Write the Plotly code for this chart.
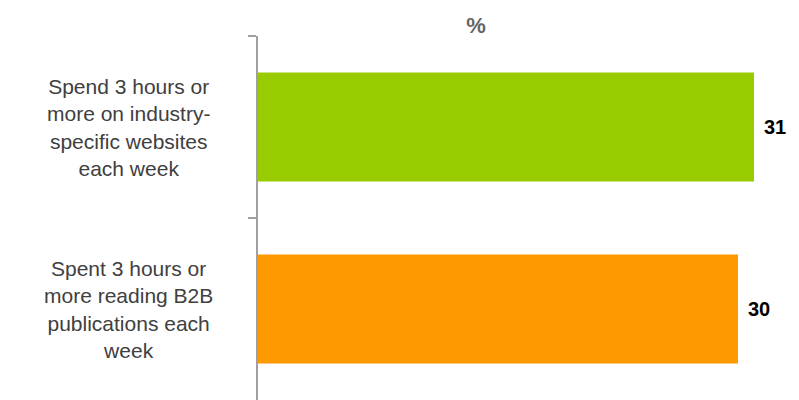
import plotly.graph_objects as go

categories = [
    "Spend 3 hours or<br>more on industry-<br>specific websites<br>each week",
    "Spent 3 hours or<br>more reading B2B<br>publications each<br>week",
]
values = [31, 30]
colors = ["#99CC00", "#FF9900"]
title_text = "%"

FONT = "Liberation Sans, Arial, sans-serif"

fig = go.Figure()
fig.add_trace(go.Bar(
    x=values,
    y=categories,
    orientation="h",
    marker=dict(color=colors, line=dict(width=0)),
    hoverinfo="skip",
))

annotations = []
for cat, val in zip(categories, values):
    annotations.append(dict(
        x=val, y=cat, xref="x", yref="y",
        text="<b>%d</b>" % val, showarrow=False,
        xanchor="left", xshift=8,
        font=dict(family=FONT, size=20, color="#000000"),
    ))
    annotations.append(dict(
        x=-0.2425, y=cat, xref="paper", yref="y",
        text=cat, showarrow=False,
        xanchor="center", align="center",
        font=dict(family=FONT, size=21, color="#404040"),
    ))

fig.update_layout(
    width=791, height=392,
    margin=dict(l=250, r=9, t=28, b=0),
    paper_bgcolor="white", plot_bgcolor="white",
    showlegend=False,
    bargap=0.4,
    title=dict(
        text="<b>%s</b>" % title_text,
        x=0.5917, xanchor="center", xref="container",
        y=0.9566, yanchor="middle", yref="container",
        font=dict(family=FONT, size=22, color="#666666"),
    ),
    xaxis=dict(range=[0, 33.25], visible=False, fixedrange=True),
    yaxis=dict(
        type="category",
        autorange="reversed",
        showticklabels=False,
        showline=True, linecolor="#a0a0a0", linewidth=1.5,
        ticks="outside", ticklen=8, tickcolor="#a0a0a0", tickwidth=1.5,
        tickson="boundaries",
        showgrid=False, zeroline=False,
        fixedrange=True,
    ),
    annotations=annotations,
)

fig.write_html("out.html")
